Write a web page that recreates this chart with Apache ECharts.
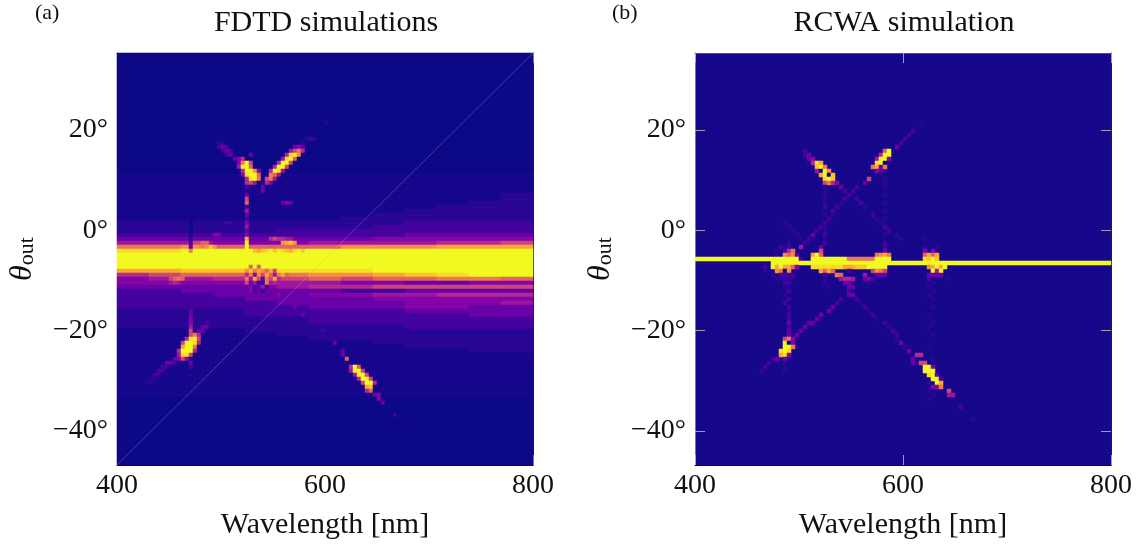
<!DOCTYPE html>
<html>
<head>
<meta charset="utf-8">
<title>FDTD / RCWA</title>
<script src="https://cdn.jsdelivr.net/npm/echarts@6/dist/echarts.min.js"></script>
<style>
  html, body { margin: 0; padding: 0; background: #fff; }
  #chart { width: 1143px; height: 545px; }
</style>
</head>
<body>
<div id="chart"></div>
<script>
// intensity levels, 0 (navy) .. f (yellow)
const levelColors = ['#0d0887', '#17078c', '#2a0695', '#44039e', '#6a00a8', '#8405a7', '#9c179e', '#b12a90',
  '#cc4778', '#e16462', '#ed7953', '#f68f44', '#fca636', '#fdc328', '#f9dd25', '#f0f921'];

const waveTicks = [400, 600, 800];
const thetaTicks = [-40, -20, 0, 20];
const waveRange = [400, 800];
const thetaRange = [-46.8, 35.3];
const colCount = 104;
const rowCount = 103;
const baseColWidth = 8;

// FDTD: slowly varying background, one string per row from the top, 8 cells per character
const fdtdBase = [
  '0000000000000', '0000000000000', '0000000000000', '0000000000000', '0000000000000', '0000000000000',
  '0000000000000', '0000000000000', '0000000000000', '0000000000000', '0000000000000', '0000000000000',
  '0000000000000', '0000000000000', '0000000000000', '0000000000000', '0000000000000', '0000000000000',
  '0000000000000', '0000000000000', '0000000000000', '0000000000000', '0000000000000', '0000000000000',
  '0000000000000', '0000000000000', '0000000000000', '0000000000000', '0000000000000', '0000000000000',
  '1111111111111', '1111111111111', '1111111111111', '1111111111111', '1111111111111', '1111111111112',
  '1111111111112', '1111111111122', '1111111111222', '1111111112222', '1111111122222', '1111111222222',
  '2222222223333', '2222222233333', '2222233333333', '3333333334444', '4444444455555', '6665556666778',
  'aab9999bbbccc', 'eefffffffffff', 'fffffffffffff', 'fffffffffffff', 'fffffffffffff', 'fffffffffffff',
  'ccdddeeefffff', '7899aabbcdeff', '5667889899aa9', '5555666554455', '4444567788888', '3344444334444',
  '3334445566777', '3333444455555', '3333344445556', '3333334445544', '2222333334444', '2222333333344',
  '2222223333333', '2222223333333', '2222222223333', '1111222222222', '1111122222222', '1111112222222',
  '1111111122222', '1111111112222', '1111111111122', '1111111111111', '1111111111111', '1111111111111',
  '1111111111111', '1111111111111', '1111111111111', '1111111111111', '1111111111111', '1111111111111',
  '1111111111111', '1111111111111', '0000000000000', '0000000000000', '0000000000000', '0000000000000',
  '0000000000000', '0000000000000', '0000000000000', '0000000000000', '0000000000000', '0000000000000',
  '0000000000000', '0000000000000', '0000000000000', '0000000000000', '0000000000000', '0000000000000',
  '0000000000000'
];

// FDTD: sharp features, [row, first column, levels, optional repeat]
const fdtdFine = [
  [17, 52, '2'], [21, 47, '232'], [22, 25, '22'], [22, 46, '2'], [23, 25, '343'], [23, 44, '454'], [24, 26, '343'], [24, 43, '68a7'],
  [25, 27, '34'], [25, 33, '4'], [25, 42, '7dfb'], [26, 29, '457'], [26, 41, '6ef9'],
  [27, 30, '5af8'], [27, 40, '7ff8'], [28, 30, '6ff9'], [28, 39, '7ff8'], [29, 31, '7ffb5'], [29, 38, '7fe6'],
  [30, 31, '5eff9'], [30, 38, 'a96'], [31, 32, '7efa'], [31, 37, '8a6'], [32, 32, '786'], [32, 37, '75'],
  [33, 32, '3'], [33, 36, '4'], [34, 32, '2'], [34, 36, '4'], [35, 32, '4'], [36, 32, '8'], [37, 32, '9'], [37, 41, '454'],
  [38, 32, '3'], [38, 18, '0'], [39, 32, '6'], [40, 32, '4'], [41, 32, '3'], [42, 27, '33'], [42, 32, '5'],
  [43, 32, '6'], [44, 32, '4'], [45, 24, '55'], [45, 32, '5'],
  [41, 18, '0'], [42, 18, '0'], [43, 18, '0'], [44, 18, '1'], [45, 18, '1'], [46, 18, '2'],
  [46, 32, 'c'], [46, 38, '787766'], [47, 18, '3'], [47, 19, '8899'], [47, 32, 'f'], [47, 41, 'bcdb'],
  [48, 18, '4'], [48, 21, 'abdb'], [48, 32, 'f'], [49, 18, 'a'], [49, 34, 'dcdefdfedcefd'],
  [53, 33, '9'], [53, 35, '9'], [54, 32, 'bdacb9c8'], [55, 13, '8'], [55, 32, '7a5b8c96ac9'], [56, 13, '89a9'], [56, 32, 'a6c84a8c7'], [57, 13, '676'],
  [57, 32, '84632a67'], [58, 32, '453463'], [59, 33, '5342'], [60, 40, '5'], [62, 42, '4'], [63, 44, '4'],
  [64, 18, '4'], [65, 18, '4'], [65, 46, '4'], [66, 18, '5'], [67, 18, '5'], [67, 22, '3'], [67, 48, '33'],
  [68, 18, '6'], [68, 21, '44'], [69, 18, '8'], [69, 20, '44'], [69, 51, '3'],
  [70, 18, '8a7'], [71, 17, '7ef8'], [72, 16, '8ffe7'], [72, 54, '4'],
  [73, 16, 'cffa'], [74, 15, '7fff7'], [74, 56, '4'], [75, 15, '6ee8'], [75, 56, '4'], [76, 14, '4585'], [76, 57, '9'],
  [77, 12, '443'], [77, 18, '4'], [78, 11, '33'], [78, 18, '3'], [78, 58, '7f9'], [79, 10, '33'], [79, 58, '6ff8'],
  [80, 9, '33'], [80, 18, '2'], [80, 59, '6ff8'], [81, 8, '22'], [81, 60, '7ff8'], [82, 7, '22'], [82, 61, '8ff7'],
  [83, 62, 'cd'], [84, 62, '79'], [85, 64, '45'], [86, 65, '5'], [87, 66, '4'], [90, 69, '3'], [93, 71, '1']
];

// RCWA: background stays flat, only the cells that differ from it, [row, first column, levels, optional repeat]
const rcwaFine = [
  [17, 56, '2'], [19, 54, '3'], [20, 53, '3'], [21, 52, '3'], [22, 51, '3'], [23, 50, '4'],
  [24, 27, '3'], [24, 47, '9f'], [25, 27, '34'], [25, 46, '7ff'], [26, 28, '45'], [26, 45, '6ff5'],
  [27, 29, '7ec'], [27, 45, 'ef0'], [28, 30, 'dfa'], [28, 44, 'ac4a'], [29, 30, '60fb'], [29, 45, '54'],
  [30, 31, 'cf0d'], [30, 46, '2'], [31, 32, 'efd'], [31, 43, '8'], [31, 47, '2'], [32, 32, '8a7'], [32, 35, '5'],
  [32, 42, '4'], [32, 47, '2'], [33, 32, '2'], [33, 36, '4'], [33, 40, '3'], [33, 47, '2'], [34, 32, '2'],
  [34, 37, '3'], [34, 39, '3'], [35, 32, '2'], [35, 38, '3'], [35, 47, '2'], [36, 32, '2'], [36, 37, '3'], [36, 40, '3'],
  [37, 32, '2'], [37, 36, '2'], [37, 41, '3'], [37, 47, '2'], [38, 32, '3'], [38, 35, '3'], [38, 42, '2'],
  [39, 34, '3'], [39, 47, '2'], [40, 32, '2'], [40, 34, '2'], [40, 44, '3'], [41, 33, '3'], [41, 45, '2'], [41, 47, '2'],
  [42, 22, '2'], [42, 32, '3'], [42, 46, '2'], [43, 23, '2'], [43, 31, '32'], [43, 47, '3'],
  [44, 24, '2'], [44, 30, '3'], [44, 32, '2'], [44, 48, '3'], [45, 25, '2'], [45, 29, '4'], [45, 32, '3'], [45, 47, '2'], [45, 50, '2'],
  [46, 26, '2'], [46, 28, '3'], [46, 32, '2'], [46, 51, '2'], [46, 57, '2'], [47, 23, '2'], [47, 27, '32'], [47, 32, '3'], [47, 47, '3'],
  [48, 21, '323'], [48, 26, '6'], [48, 31, '4'], [48, 47, '3'], [48, 57, '2'], [48, 60, '2'],
  [49, 20, '2'], [49, 22, '37a'], [49, 31, '8'], [49, 47, '4'], [49, 57, '5'], [49, 59, '5'],
  [50, 20, '2'], [50, 22, 'b9b4'], [50, 29, 'cf9'], [50, 45, 'abca'], [50, 57, '9c9c'],
  [51, 0, 'f', 26], [51, 26, '3'], [51, 29, 'f', 9], [51, 38, 'a', 7], [51, 45, 'f', 4], [51, 57, 'edfd'],
  [52, 19, 'f', 85],
  [53, 17, '3'], [53, 19, 'fcfcc95'], [53, 29, 'eeeeeeee'], [53, 37, 'cccdddfffff'], [53, 58, 'bcfcf'],
  [54, 17, '2'], [54, 20, 'ba0b'], [54, 31, 'c9c9'], [54, 38, '3'], [54, 44, '8ba8'], [54, 59, 'f6f'],
  [55, 19, '2'], [55, 21, '3333'], [55, 32, '3'], [55, 35, 'a9'], [55, 42, '6'], [55, 45, '444'], [55, 58, '4444'],
  [56, 20, '22222'], [56, 32, '2'], [56, 36, '6776'], [56, 42, '453'], [56, 58, '3'], [56, 63, '2'],
  [57, 22, '33'], [57, 32, '2'], [57, 37, '44'], [57, 43, '2'], [57, 59, '2'], [58, 22, '2'], [58, 33, '2'], [58, 38, '44'], [58, 58, '2'],
  [59, 23, '3'], [59, 38, '3'], [59, 59, '2'], [60, 22, '2'], [60, 38, '44'], [60, 58, '2'],
  [61, 23, '3'], [61, 36, '3'], [61, 40, '3'], [61, 59, '2'], [62, 22, '3'], [62, 35, '3'], [62, 41, '2'],
  [63, 23, '3'], [63, 34, '4'], [63, 42, '3'], [63, 59, '2'], [64, 23, '2'], [64, 33, '4'], [64, 43, '2'],
  [65, 23, '3'], [65, 31, '4'], [65, 44, '3'], [65, 58, '2'], [66, 23, '3'], [66, 30, '4'], [66, 45, '2'],
  [67, 23, '4'], [67, 28, '44'], [67, 47, '3'], [67, 59, '2'], [68, 23, '3'], [68, 27, '4'], [68, 48, '2'], [68, 58, '2'],
  [69, 23, '4'], [69, 26, '4'], [69, 49, '3'], [70, 23, '4'], [70, 25, '4'], [70, 50, '3'], [70, 59, '2'],
  [71, 22, '8a5'], [71, 50, '2'], [72, 22, 'f05'], [72, 51, '4'], [73, 22, 'ffa'], [73, 52, '2'], [73, 58, '2'],
  [74, 21, 'efe'], [74, 53, '4'], [75, 21, 'ce5'], [75, 55, '77'], [76, 19, '34'], [76, 22, '4'], [76, 54, '4'], [76, 59, '2'],
  [77, 18, '3'], [77, 22, '2'], [77, 54, '4'], [77, 56, '88'], [78, 17, '3'], [78, 22, '2'], [78, 57, 'ff'], [78, 59, '5'],
  [79, 16, '2'], [79, 22, '2'], [79, 57, 'fff'], [80, 58, 'ef'], [80, 60, '4'], [81, 59, 'ff'], [81, 61, '3'],
  [82, 60, 'fc'], [82, 58, '2'], [83, 59, '55a'], [84, 58, '2'], [84, 63, '8'], [85, 59, '2'], [85, 63, '66'],
  [86, 58, '2'], [88, 66, '3'], [91, 69, '2']
];

// faint straight line that crosses the FDTD panel
const diagWave = [400, 800];
const diagTheta = [-46.8, 35.3];

const cols = [];
for (let i = 0; i < colCount; i++) cols.push(i);
const rows = [];
for (let i = 0; i < rowCount; i++) rows.push(i);

// put base + fine levels into cell triples for the heatmap
function buildCells(base, fine) {
  const cells = {};
  if (base) {
    base.forEach((s, r) => {
      for (let c = 0; c < colCount; c++) {
        cells[r + '_' + c] = parseInt(s[Math.floor(c / baseColWidth)], 16);
      }
    });
  }
  fine.forEach(([r, start, levels, repeat]) => {
    const text = repeat ? levels.repeat(repeat) : levels;
    for (let i = 0; i < text.length; i++) {
      cells[r + '_' + (start + i)] = parseInt(text[i], 16);
    }
  });
  return Object.keys(cells).map(k => {
    const [r, c] = k.split('_').map(Number);
    return [c, r, cells[k]];
  });
}

const FONT = '"Liberation Serif", serif';
// 416x412 so that every cell lands on whole pixels (4x4), no seams between them
const grids = [
  { left: 117, top: 53, width: 416, height: 412, show: true, borderWidth: 0, backgroundColor: '#0d0887', outerBoundsMode: 'none' },
  { left: 695, top: 53, width: 416, height: 412, show: true, borderWidth: 0, backgroundColor: '#17078a', outerBoundsMode: 'none' }
];
const tickStyle = { color: 'rgba(175,175,175,0.9)', width: 1 };
const frameColors = { bottom: '#111', top: '#555', left: '#777', right: '#222' };

const xAxes = [];
const yAxes = [];
grids.forEach((g, i) => {
  // index axes that hold the cells
  xAxes.push({ type: 'category', gridIndex: i, data: cols, show: false });
  yAxes.push({ type: 'category', gridIndex: i, data: rows, inverse: true, show: false });
  // real scales, bottom/left with labels, top/right mirrored
  ['bottom', 'top'].forEach(pos => {
    xAxes.push({
      type: 'value', gridIndex: i, position: pos, min: waveRange[0], max: waveRange[1],
      axisLine: { show: true, onZero: false, lineStyle: { color: frameColors[pos], width: 1 } },
      splitLine: { show: false },
      axisTick: { show: true, inside: true, length: 10, lineStyle: tickStyle, customValues: waveTicks },
      axisLabel: pos === 'bottom'
        ? { show: true, fontFamily: FONT, fontSize: 28, color: '#111', margin: 7, customValues: waveTicks }
        : { show: false },
      name: pos === 'bottom' ? 'Wavelength [nm]' : '',
      nameLocation: 'middle', nameGap: 45,
      nameTextStyle: { fontFamily: FONT, fontSize: 30, color: '#111' }
    });
  });
  ['left', 'right'].forEach(pos => {
    yAxes.push({
      type: 'value', gridIndex: i, position: pos, min: thetaRange[0], max: thetaRange[1],
      axisLine: { show: true, onZero: false, lineStyle: { color: frameColors[pos], width: 1 } },
      splitLine: { show: false },
      axisTick: { show: true, inside: true, length: 10, lineStyle: tickStyle, customValues: thetaTicks },
      axisLabel: pos === 'left'
        ? {
            show: true, fontFamily: FONT, fontSize: 28, color: '#111', margin: 9, customValues: thetaTicks,
            formatter: v => (v < 0 ? '\u2212' + (-v) : v) + '\u00b0'
          }
        : { show: false },
      name: pos === 'left' ? '{t|\u03b8}{s|out}' : '',
      nameLocation: 'middle', nameGap: 78, nameRotate: 90,
      nameTextStyle: {
        rich: {
          t: { fontFamily: FONT, fontStyle: 'italic', fontSize: 32, color: '#111' },
          s: { fontFamily: FONT, fontSize: 22, color: '#111', padding: [8, 0, 0, 0] }
        }
      }
    });
  });
});

const titleStyle = { fontFamily: FONT, fontSize: 30, fontWeight: 'normal', color: '#111' };
const tagStyle = { fontFamily: FONT, fontSize: 22, fontWeight: 'normal', color: '#111' };

const chart = echarts.init(document.getElementById('chart'), null, { renderer: 'canvas' });
chart.setOption({
  animation: false,
  backgroundColor: '#fff',
  title: [
    { text: 'FDTD simulations', left: 321, top: 3, textAlign: 'center', textStyle: titleStyle },
    { text: 'RCWA simulation', left: 899, top: 3, textAlign: 'center', textStyle: titleStyle },
    { text: '(a)', left: 30, top: -3, textStyle: tagStyle },
    { text: '(b)', left: 607, top: -3, textStyle: tagStyle }
  ],
  grid: grids,
  xAxis: xAxes,
  yAxis: yAxes,
  visualMap: {
    show: false, type: 'continuous', min: 0, max: 15, seriesIndex: [0, 1], dimension: 2,
    inRange: { color: levelColors }
  },
  series: [
    { type: 'heatmap', xAxisIndex: 0, yAxisIndex: 0, data: buildCells(fdtdBase, fdtdFine), progressive: 0, silent: true },
    { type: 'heatmap', xAxisIndex: 3, yAxisIndex: 3, data: buildCells(null, rcwaFine), progressive: 0, silent: true },
    {
      type: 'line', xAxisIndex: 1, yAxisIndex: 1, symbol: 'none', silent: true, z: 5,
      data: diagWave.map((w, i) => [w, diagTheta[i]]),
      lineStyle: { color: 'rgba(190,180,235,0.3)', width: 1 }
    }
  ]
});
</script>
</body>
</html>
